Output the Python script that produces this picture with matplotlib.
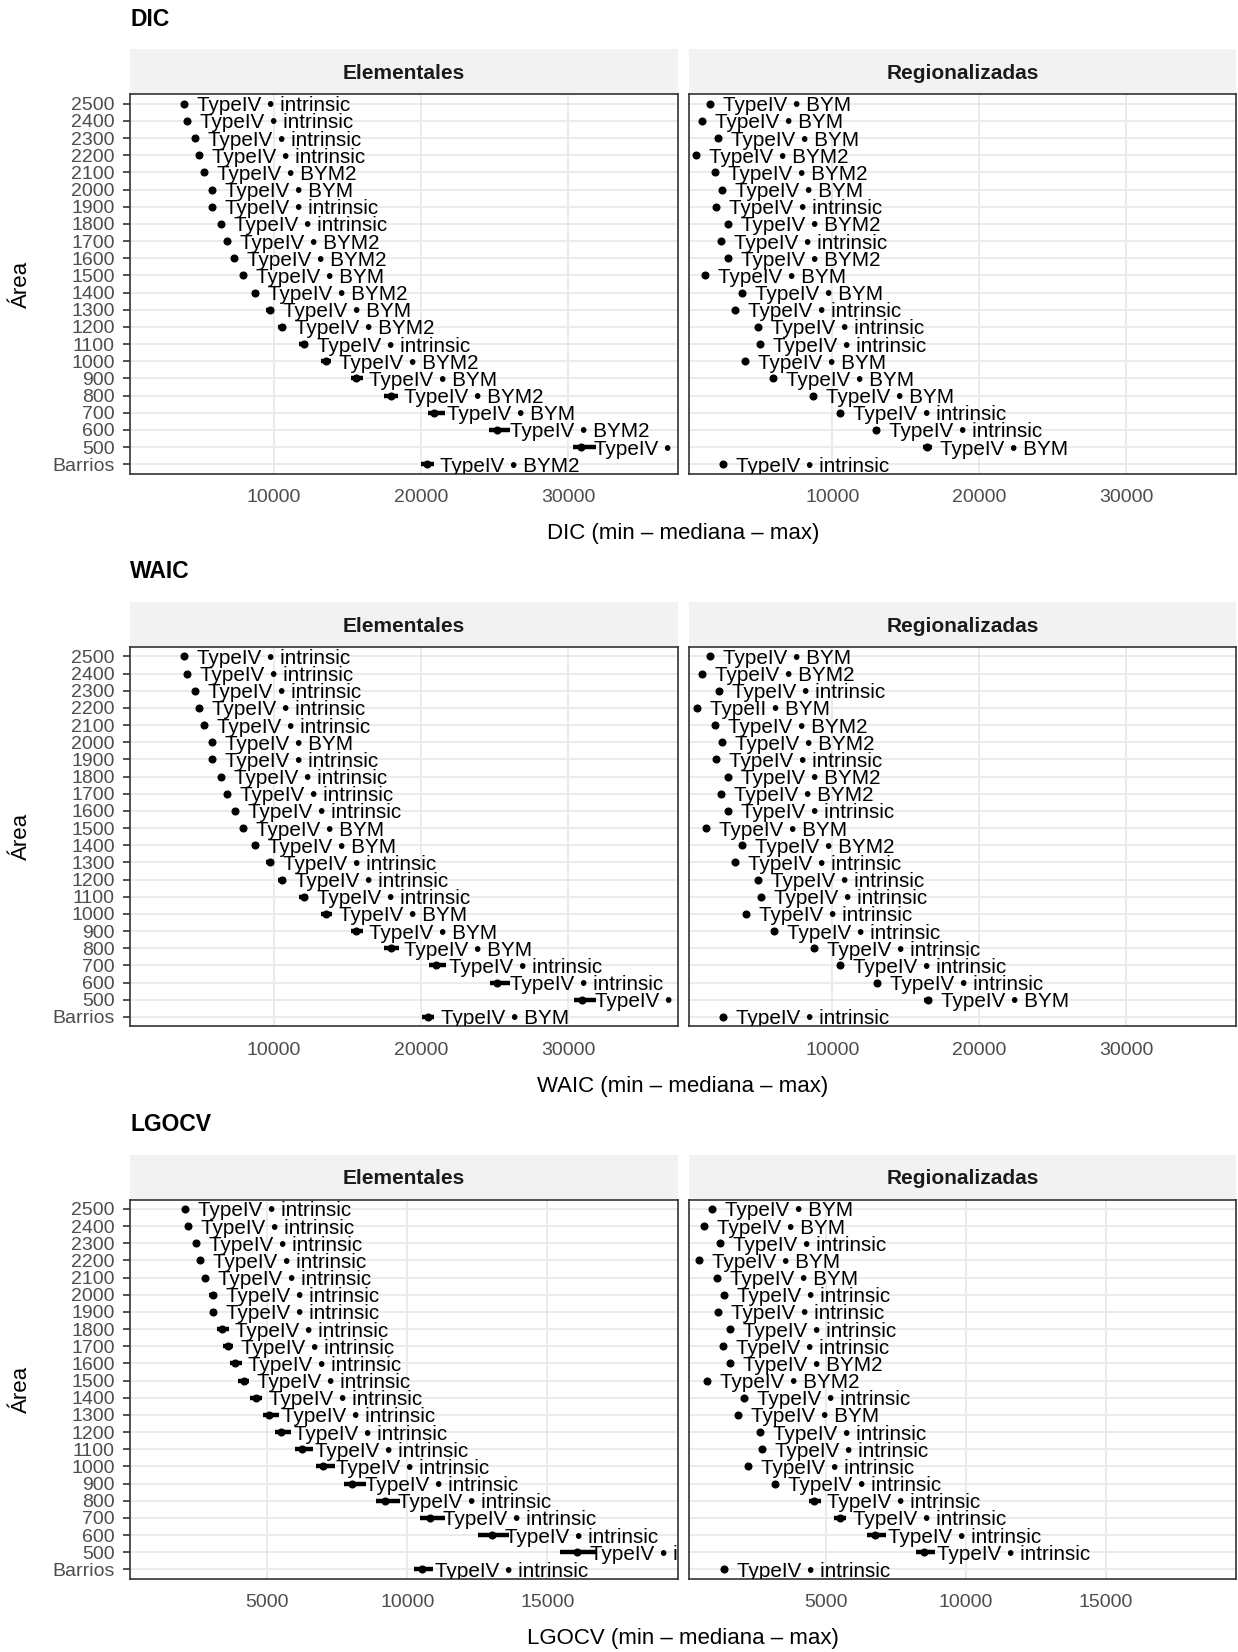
import matplotlib
matplotlib.use("Agg")
import matplotlib.pyplot as plt
import matplotlib.transforms as mtransforms
import numpy as np

plt.rcParams["font.family"] = ["Liberation Sans", "DejaVu Sans"]

# ---- data ----
AREAS = ["2500", "2400", "2300", "2200", "2100", "2000", "1900", "1800", "1700", "1600",
         "1500", "1400", "1300", "1200", "1100", "1000", "900", "800", "700", "600",
         "500", "Barrios"]

# DIC
dic_elem_med = [3920, 4100, 4650, 4920, 5250, 5800, 5830, 6430, 6820, 7340, 7910, 8760,
                9730, 10580, 12060, 13540, 15600, 17960, 20930, 25160, 30910, 20440]
dic_elem_min = [3850, 4030, 4580, 4850, 5170, 5720, 5750, 6340, 6720, 7230, 7790, 8520,
                9460, 10300, 11750, 13200, 15230, 17500, 20470, 24650, 30370, 20040]
dic_elem_max = [3990, 4170, 4720, 4990, 5330, 5880, 5910, 6520, 6920, 7450, 8030, 9030,
                10000, 10850, 12360, 13930, 16050, 18470, 21620, 26030, 31880, 20890]
dic_elem_mod = ["intrinsic", "intrinsic", "intrinsic", "intrinsic", "BYM2", "BYM", "intrinsic",
                "intrinsic", "BYM2", "BYM2", "BYM", "BYM2", "BYM", "BYM2", "intrinsic", "BYM2",
                "BYM", "BYM2", "BYM", "BYM2", "BYM2", "BYM2"]

dic_reg_med = [1650, 1120, 2250, 760, 2010, 2500, 2060, 2880, 2400, 2910, 1370, 3860,
               3370, 4960, 5110, 4090, 5950, 8700, 10490, 12970, 16450, 2550]
dic_reg_min = [1610, 1080, 2210, 720, 1970, 2460, 2020, 2840, 2360, 2870, 1330, 3810,
               3320, 4900, 5050, 4040, 5880, 8620, 10400, 12770, 16190, 2510]
dic_reg_max = [1690, 1160, 2290, 800, 2050, 2540, 2100, 2920, 2440, 2950, 1410, 3910,
               3420, 5020, 5170, 4140, 6020, 8780, 10580, 13220, 16750, 2590]
dic_reg_mod = ["BYM", "BYM", "BYM", "BYM2", "BYM2", "BYM", "intrinsic", "BYM2", "intrinsic",
               "BYM2", "BYM", "BYM", "intrinsic", "intrinsic", "intrinsic", "BYM", "BYM", "BYM",
               "intrinsic", "intrinsic", "BYM", "intrinsic"]

# WAIC
waic_elem_med = [3930, 4110, 4660, 4930, 5260, 5810, 5840, 6440, 6830, 7350, 7920, 8770,
                 9740, 10590, 12070, 13560, 15620, 17980, 21000, 25180, 30940, 20470]
waic_elem_min = [3860, 4040, 4590, 4860, 5180, 5730, 5760, 6350, 6730, 7240, 7800, 8530,
                 9470, 10310, 11760, 13220, 15250, 17520, 20540, 24670, 30400, 20070]
waic_elem_max = [4000, 4180, 4730, 5000, 5340, 5890, 5920, 6530, 6930, 7460, 8040, 9040,
                 10010, 10860, 12370, 13950, 16070, 18490, 21690, 26050, 31910, 20920]
waic_elem_mod = ["intrinsic", "intrinsic", "intrinsic", "intrinsic", "intrinsic", "BYM",
                 "intrinsic", "intrinsic", "intrinsic", "intrinsic", "BYM", "BYM", "intrinsic",
                 "intrinsic", "intrinsic", "BYM", "BYM", "BYM", "intrinsic", "intrinsic",
                 "intrinsic", "BYM"]

waic_reg_med = [1660, 1130, 2260, 770, 2020, 2510, 2070, 2890, 2410, 2920, 1380, 3830,
                3380, 4970, 5120, 4100, 6000, 8720, 10500, 13050, 16500, 2560]
waic_reg_min = [1620, 1090, 2220, 730, 1980, 2470, 2030, 2850, 2370, 2880, 1340, 3780,
                3330, 4910, 5060, 4050, 5930, 8640, 10410, 12850, 16240, 2520]
waic_reg_max = [1700, 1170, 2300, 810, 2060, 2550, 2110, 2930, 2450, 2960, 1420, 3880,
                3430, 5030, 5180, 4150, 6070, 8800, 10590, 13300, 16800, 2600]
waic_reg_mod = ["BYM", "BYM2", "intrinsic", "BYM", "BYM2", "BYM2", "intrinsic", "BYM2",
                "BYM2", "intrinsic", "BYM", "BYM2", "intrinsic", "intrinsic", "intrinsic",
                "intrinsic", "intrinsic", "intrinsic", "intrinsic", "intrinsic", "BYM",
                "intrinsic"]
waic_reg_type = ["TypeIV", "TypeIV", "TypeIV", "TypeII", "TypeIV", "TypeIV", "TypeIV", "TypeIV",
                 "TypeIV", "TypeIV", "TypeIV", "TypeIV", "TypeIV", "TypeIV", "TypeIV", "TypeIV",
                 "TypeIV", "TypeIV", "TypeIV", "TypeIV", "TypeIV", "TypeIV"]

# LGOCV
lgocv_elem_med = [2090, 2170, 2480, 2610, 2790, 3070, 3070, 3390, 3610, 3870, 4160, 4590,
                  5080, 5510, 6260, 7000, 8040, 9200, 10800, 13040, 16060, 10510]
lgocv_elem_min = [2040, 2120, 2430, 2560, 2730, 2930, 2960, 3230, 3440, 3680, 3960, 4390,
                  4870, 5300, 6000, 6750, 7750, 8900, 10440, 12530, 15460, 10240]
lgocv_elem_max = [2140, 2220, 2530, 2660, 2850, 3230, 3180, 3650, 3790, 4090, 4360, 4820,
                  5430, 5840, 6640, 7430, 8520, 9730, 11350, 13630, 16730, 10920]
lgocv_elem_mod = ["intrinsic"] * 22

lgocv_reg_med = [925, 645, 1230, 455, 1125, 1365, 1150, 1565, 1325, 1580, 765, 2090,
                 1845, 2650, 2730, 2220, 3200, 4570, 5510, 6740, 8515, 1365]
lgocv_reg_min = [890, 610, 1195, 420, 1090, 1330, 1115, 1530, 1290, 1545, 730, 2050,
                 1810, 2610, 2690, 2180, 3100, 4400, 5300, 6470, 8210, 1330]
lgocv_reg_max = [960, 680, 1265, 490, 1160, 1400, 1185, 1600, 1360, 1615, 800, 2130,
                 1880, 2690, 2770, 2260, 3300, 4840, 5730, 7140, 8880, 1400]
lgocv_reg_mod = ["BYM", "BYM", "intrinsic", "BYM", "BYM", "intrinsic", "intrinsic",
                 "intrinsic", "intrinsic", "BYM2", "BYM2", "intrinsic", "BYM", "intrinsic",
                 "intrinsic", "intrinsic", "intrinsic", "intrinsic", "intrinsic", "intrinsic",
                 "intrinsic", "intrinsic"]

BLOCKS = [
    ("DIC", (250, 37450), [10000, 20000, 30000],
     [(dic_elem_min, dic_elem_med, dic_elem_max, dic_elem_mod, None),
      (dic_reg_min, dic_reg_med, dic_reg_max, dic_reg_mod, None)]),
    ("WAIC", (250, 37450), [10000, 20000, 30000],
     [(waic_elem_min, waic_elem_med, waic_elem_max, waic_elem_mod, None),
      (waic_reg_min, waic_reg_med, waic_reg_max, waic_reg_mod, waic_reg_type)]),
    ("LGOCV", (112, 19645), [5000, 10000, 15000],
     [(lgocv_elem_min, lgocv_elem_med, lgocv_elem_max, lgocv_elem_mod, None),
      (lgocv_reg_min, lgocv_reg_med, lgocv_reg_max, lgocv_reg_mod, None)]),
]
FACETS = ["Elementales", "Regionalizadas"]

# ---- layout (pixels) ----
W, H = 1238, 1652
BLOCK_H = 552.6
PANEL_X = [(130, 677.7), (689, 1236)]
STRIP_TOP, PANEL_TOP, PANEL_BOT = 49.3, 94.3, 473.7
GRID = "#EBEBEB"
DARK = "#333333"

fig = plt.figure(figsize=(W / 100, H / 100), dpi=100)


def fx(px):
    return px / W


def fy(py):
    return 1 - py / H


ypos = np.arange(len(AREAS))[::-1]  # 2500 at top, Barrios at bottom

for b, (metric, xlim, xticks, panels) in enumerate(BLOCKS):
    y0 = b * BLOCK_H
    fig.text(fx(130), fy(y0 + 19), metric, fontsize=16.5, fontweight="bold",
             ha="left", va="center")
    fig.text(fx((130 + 1236) / 2), fy(y0 + 533.5), f"{metric} (min – mediana – max)",
             fontsize=16, ha="center", va="center")
    fig.text(fx(21), fy(y0 + (PANEL_TOP + PANEL_BOT) / 2), "Área", fontsize=16,
             rotation=90, ha="center", va="center")

    for p, (vmin, vmed, vmax, mods, types) in enumerate(panels):
        x0, x1 = PANEL_X[p]
        # strip
        sax = fig.add_axes([fx(x0), fy(y0 + PANEL_TOP), fx(x1 - x0),
                            (PANEL_TOP - STRIP_TOP) / H])
        sax.set_facecolor("#F2F2F2")
        sax.set_xticks([])
        sax.set_yticks([])
        for s in sax.spines.values():
            s.set_visible(False)
        sax.text(0.5, 0.5, FACETS[p], transform=sax.transAxes, ha="center",
                 va="center_baseline", fontsize=15, fontweight="bold", color="#1A1A1A")

        ax = fig.add_axes([fx(x0), fy(y0 + PANEL_BOT), fx(x1 - x0),
                           (PANEL_BOT - PANEL_TOP) / H])
        ax.set_xlim(*xlim)
        ax.set_ylim(-0.55, len(AREAS) - 1 + 0.55)
        ax.set_axisbelow(True)
        ax.grid(True, color=GRID, linewidth=1.4)
        ax.set_xticks(xticks)
        ax.set_xticklabels([str(t) for t in xticks])
        ax.set_yticks(ypos)
        if p == 0:
            ax.set_yticklabels(AREAS)
        else:
            ax.set_yticklabels([])
        ax.tick_params(axis="x", length=0, pad=11, labelsize=14, labelcolor="#4D4D4D")
        ax.tick_params(axis="y", length=4.8 if p == 0 else 0, width=1.2, color=DARK,
                       pad=6, labelsize=14, labelcolor="#4D4D4D")
        for s in ax.spines.values():
            s.set_color(DARK)
            s.set_linewidth(1.2)

        ax.hlines(ypos, vmin, vmax, color="black", linewidth=3.2, zorder=3)
        ax.plot(vmed, ypos, "o", color="black", markersize=4.8, zorder=4)

        off = mtransforms.offset_copy(ax.transData, fig=fig, x=13, y=0, units="dots")
        for i, (xm, yv) in enumerate(zip(vmed, ypos)):
            t = types[i] if types is not None else "TypeIV"
            ax.text(xm, yv, f"{t} • {mods[i]}", transform=off, ha="left",
                    va="center_baseline", fontsize=14.9, color="black", clip_on=True,
                    zorder=5)

fig.savefig("out.png", dpi=100)
